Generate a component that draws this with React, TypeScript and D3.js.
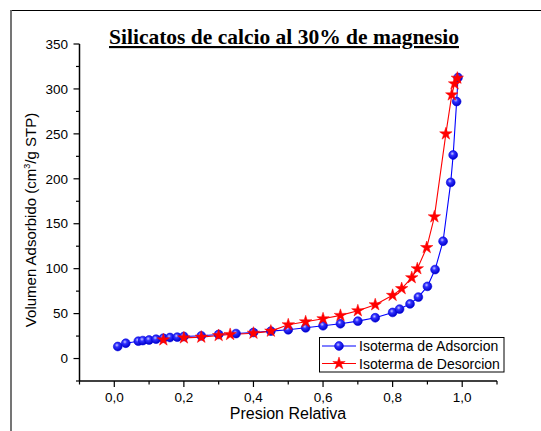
import React from "react";
import * as d3 from "d3";

const adsX = [0.01, 0.033, 0.069, 0.082, 0.1, 0.12, 0.141, 0.16, 0.181, 0.2, 0.25, 0.3, 0.35, 0.4, 0.45, 0.5, 0.55, 0.6, 0.65, 0.7, 0.75, 0.8, 0.82, 0.85, 0.874, 0.9, 0.922, 0.945, 0.967, 0.974, 0.984, 0.988];
const adsY = [13.4, 17, 19.3, 20, 20.6, 21.5, 22.6, 23.4, 23.8, 24.5, 25.3, 26.8, 27.8, 29, 30.5, 32, 34.2, 36.5, 38.7, 41.6, 45.4, 51.3, 55, 60.8, 68.4, 80.3, 99, 130.5, 196, 226.5, 286, 312.7];
const desX = [0.141, 0.2, 0.25, 0.3, 0.333, 0.4, 0.45, 0.5, 0.55, 0.6, 0.65, 0.7, 0.75, 0.8, 0.826, 0.855, 0.871, 0.898, 0.92, 0.953, 0.97, 0.978, 0.986];
const desY = [20.8, 23, 23.8, 25.6, 26.8, 28.2, 30.5, 37.6, 40.9, 44.3, 48, 53.2, 59.9, 70.3, 77.8, 90, 100, 123.5, 157.7, 250, 293.4, 305.7, 312];

const xMajor = [0, 0.2, 0.4, 0.6, 0.8, 1.0];
const xMinor = [-0.1, 0.1, 0.3, 0.5, 0.7, 0.9, 1.1];
const yMajor = [0, 50, 100, 150, 200, 250, 300, 350];
const yMinor = [-25, 25, 75, 125, 175, 225, 275, 325];

const title = "Silicatos de calcio al 30% de magnesio";
const xTitle = "Presion Relativa";
const legendLabels = ["Isoterma de Adsorcion", "Isoterma de Desorcion"];

export default function App() {
  const x = d3.scaleLinear().domain([-0.1, 1.1]).range([79.5, 497]);
  const y = d3.scaleLinear().domain([-25, 350]).range([381, 44]);
  const ads = adsX.map((v, i) => [v, adsY[i]] as [number, number]);
  const des = desX.map((v, i) => [v, desY[i]] as [number, number]);
  const line = d3.line<[number, number]>().x((d) => x(d[0])).y((d) => y(d[1]));
  const star = d3.symbol().type(d3.symbolStar).size(48)() as string;
  const fmt = (v: number) => v.toFixed(1).replace(".", ",");
  const sans = "Arial, 'Liberation Sans', sans-serif";

  const Ball = ({ cx, cy }: { cx: number; cy: number }) => (
    <circle cx={cx} cy={cy} r={4.4} fill="url(#ballGrad)" stroke="#0000e0" strokeWidth={0.6} />
  );
  const Star = ({ cx, cy }: { cx: number; cy: number }) => (
    <path d={star} transform={`translate(${cx},${cy})`} fill="#ff0000" stroke="#ff0000" strokeWidth={0.5} />
  );

  return (
    <svg width={541} height={431} style={{ position: "absolute", left: 0, top: 0 }} fontFamily={sans}>
      <defs>
        <radialGradient id="ballGrad" cx="0.4" cy="0.35" r="0.65">
          <stop offset="0" stopColor="#c8c8ff" />
          <stop offset="0.35" stopColor="#3030ff" />
          <stop offset="1" stopColor="#0000c8" />
        </radialGradient>
      </defs>
      <rect x={0} y={0} width={541} height={431} fill="#fff" />
      {/* frame */}
      <line x1={10.5} y1={10.5} x2={541} y2={10.5} stroke="#000" strokeWidth={1.2} />
      <line x1={11} y1={10} x2={11} y2={431} stroke="#666" strokeWidth={1.8} />

      {/* title */}
      <text x={284} y={44} textAnchor="middle" fontFamily="'Liberation Serif', 'Times New Roman', serif" fontWeight="bold" fontSize={21.5} textDecoration="underline">
        {title}
      </text>

      {/* axes */}
      <line x1={x(-0.1)} y1={381} x2={x(1.1)} y2={381} stroke="#000" strokeWidth={1.5} />
      <line x1={79.5} y1={y(-25)} x2={79.5} y2={y(350)} stroke="#000" strokeWidth={1.5} />
      {xMajor.map((v) => (
        <g key={"xM" + v}>
          <line x1={x(v)} x2={x(v)} y1={381} y2={387} stroke="#000" strokeWidth={1.2} />
          <text x={x(v)} y={402} textAnchor="middle" fontSize={13.5}>{fmt(v)}</text>
        </g>
      ))}
      {xMinor.map((v) => (
        <line key={"xm" + v} x1={x(v)} x2={x(v)} y1={381} y2={384.5} stroke="#000" strokeWidth={1.2} />
      ))}
      {yMajor.map((v) => (
        <g key={"yM" + v}>
          <line x1={73.5} x2={79.5} y1={y(v)} y2={y(v)} stroke="#000" strokeWidth={1.2} />
          <text x={68} y={y(v) + 4.7} textAnchor="end" fontSize={13.5}>{v}</text>
        </g>
      ))}
      {yMinor.map((v) => (
        <line key={"ym" + v} x1={76} x2={79.5} y1={y(v)} y2={y(v)} stroke="#000" strokeWidth={1.2} />
      ))}

      {/* axis titles */}
      <text x={288} y={419} textAnchor="middle" fontSize={16}>{xTitle}</text>
      <text transform="translate(36,220) rotate(-90)" textAnchor="middle" fontSize={15}>
        Volumen Adsorbido (cm<tspan dy={-6} fontSize={9}>3</tspan><tspan dy={6}>/g STP)</tspan>
      </text>

      {/* series */}
      <path d={line(ads) as string} fill="none" stroke="#0000ff" strokeWidth={1.1} />
      <path d={line(des) as string} fill="none" stroke="#ff0000" strokeWidth={1.1} />
      {ads.map((d, i) => <Ball key={"a" + i} cx={x(d[0])} cy={y(d[1])} />)}
      {des.map((d, i) => <Star key={"d" + i} cx={x(d[0])} cy={y(d[1])} />)}

      {/* legend */}
      <rect x={319.5} y={337.5} width={184.5} height={34.5} fill="#fff" stroke="#000" strokeWidth={1} />
      <line x1={322} x2={356} y1={346} y2={346} stroke="#0000ff" strokeWidth={1.1} />
      <Ball cx={339} cy={346} />
      <text x={359} y={351} fontSize={14}>{legendLabels[0]}</text>
      <line x1={322} x2={356} y1={363.5} y2={363.5} stroke="#ff0000" strokeWidth={1.1} />
      <Star cx={339} cy={363.5} />
      <text x={359} y={368.5} fontSize={14}>{legendLabels[1]}</text>
    </svg>
  );
}
